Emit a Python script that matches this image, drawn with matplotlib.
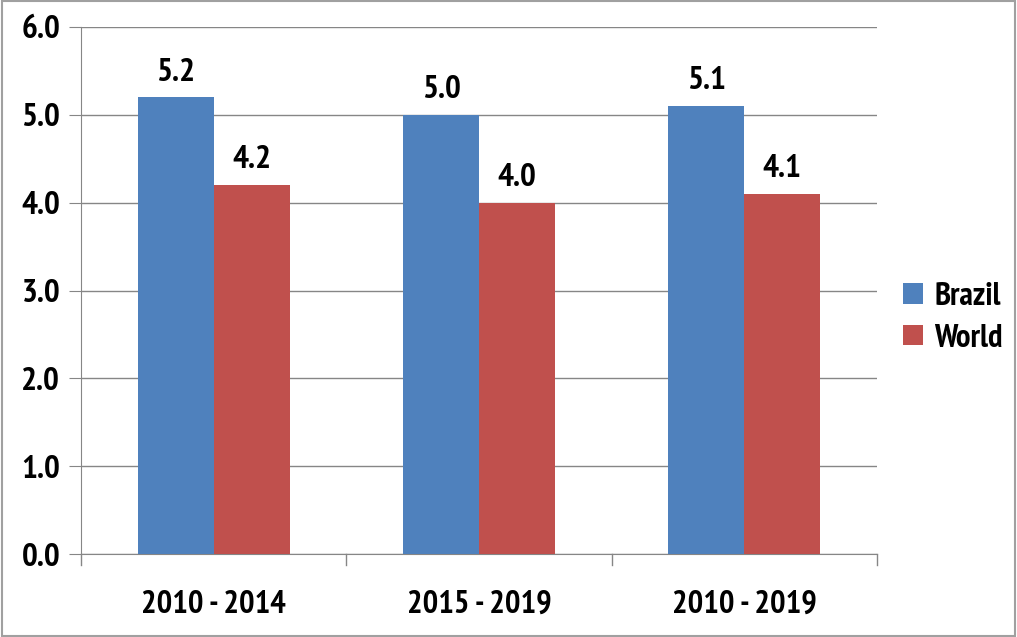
import matplotlib
matplotlib.use("Agg")
import matplotlib.pyplot as plt
import numpy as np

categories = ["2010 - 2014", "2015 - 2019", "2010 - 2019"]
brazil = [5.2, 5.0, 5.1]
world = [4.2, 4.0, 4.1]
yticks = [0.0, 1.0, 2.0, 3.0, 4.0, 5.0, 6.0]

plt.rcParams['font.family'] = ['PT Sans Narrow', 'Roboto Condensed', 'DejaVu Sans']
plt.rcParams['font.weight'] = 'bold'

fig = plt.figure(figsize=(10.17, 6.37), dpi=100)
ax = fig.add_axes([81/1017, 1-554/637, (877-81)/1017, (554-27)/637])

x = np.arange(len(categories))
w = 0.286
c_blue = '#4F81BD'
c_red = '#C0504D'
ax.bar(x - w/2, brazil, w, color=c_blue, label='Brazil', zorder=3)
ax.bar(x + w/2, world, w, color=c_red, label='World', zorder=3)

for xi, v in zip(x - w/2, brazil):
    ax.text(xi, v + 0.11, f"{v:.1f}", ha='center', va='bottom', fontsize=24, fontweight='bold')
for xi, v in zip(x + w/2, world):
    ax.text(xi, v + 0.11, f"{v:.1f}", ha='center', va='bottom', fontsize=24, fontweight='bold')

ax.set_xlim(-0.5, 2.5)
ax.set_ylim(0, 6)
ax.set_yticks(yticks)
ax.set_yticklabels([f"{t:.1f}" for t in yticks], fontsize=24, fontweight='bold')
ax.set_xticks(x)
ax.set_xticklabels(categories, fontsize=23.5, fontweight='bold')
ax.tick_params(axis='x', length=0, pad=26)
ax.tick_params(axis='y', length=9, color='#868686', pad=6)
for b in [-0.5, 0.5, 1.5, 2.5]:
    ax.plot([b, b], [0, -0.12], color='#868686', lw=1, clip_on=False, zorder=4)

ax.grid(axis='y', color='#868686', lw=1, zorder=0)
for s in ['top', 'right']:
    ax.spines[s].set_visible(False)
ax.spines['left'].set_color('#868686')
ax.spines['bottom'].set_color('#868686')

leg = ax.legend(loc='center left', bbox_to_anchor=(1.0, 0.448), frameon=False,
                prop={'size': 23.5, 'weight': 'bold'}, handlelength=0.6, handleheight=0.6,
                handletextpad=0.35, labelspacing=0.35, borderpad=0.3)

fig.patches.append(plt.Rectangle((0.002, 0.002), 0.996, 0.996, transform=fig.transFigure,
                                 fill=False, edgecolor='#A0A0A0', lw=1.5))
fig.savefig("out.png", dpi=100)
